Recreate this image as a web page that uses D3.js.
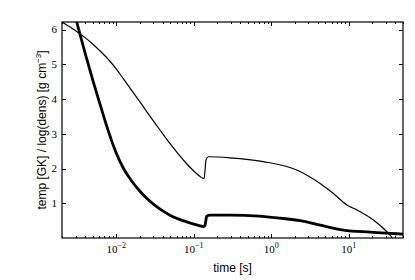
<!DOCTYPE html>
<html>
<head>
<meta charset="utf-8">
<script src="https://cdn.jsdelivr.net/npm/d3@7"></script>
<style>
  body { margin: 0; background: #fff; }
  .tick-label { font-family: "Liberation Serif", "DejaVu Serif", serif; font-size: 11px; fill: #000; }
  .axis-label { font-family: "Liberation Sans", Arial, sans-serif; font-size: 12px; fill: #000; }
</style>
</head>
<body>
<script>
// data
// thin line
var thinTime = [0.0020, 0.002512, 0.003162, 0.003981, 0.005012, 0.00631, 0.007943, 0.01, 0.01259, 0.01585,
                0.01995, 0.02512, 0.03162, 0.03981, 0.05012, 0.0631, 0.07943, 0.1, 0.1208, 0.136,
                0.1442, 0.1545, 0.294, 0.791, 2.13, 4.27, 6.34, 9.44, 12.7, 20.8, 31.0, 35.9, 40];
var thinVal  = [6.22, 6.08, 5.93, 5.77, 5.58, 5.37, 5.14, 4.87, 4.56, 4.25,
                3.94, 3.62, 3.31, 3.00, 2.70, 2.42, 2.16, 1.93, 1.77, 1.71,
                2.25, 2.34, 2.31, 2.20, 1.96, 1.57, 1.28, 0.95, 0.81, 0.52, 0.18, 0.02, -0.15];
// thick line
var thickTime = [0.00286, 0.0031, 0.003981, 0.005012, 0.00631, 0.007943, 0.01, 0.01259, 0.01585, 0.01995,
                 0.02512, 0.03162, 0.03981, 0.05012, 0.0631, 0.07943, 0.1, 0.1208, 0.1331, 0.140,
                 0.147, 0.1625, 0.294, 0.70, 1.30, 2.36, 4.27, 8.53, 18.8, 34.1, 50.2];
var thickVal  = [6.53, 6.22, 5.32, 4.53, 3.79, 3.07, 2.45, 1.98, 1.64, 1.36,
                 1.13, 0.94, 0.78, 0.65, 0.55, 0.47, 0.40, 0.35, 0.33, 0.37,
                 0.63, 0.66, 0.66, 0.63, 0.57, 0.50, 0.37, 0.23, 0.17, 0.135, 0.11];

var xTicks = [0.01, 0.1, 1, 10];
var xTickExp = ["\u22122", "\u22121", "0", "1"];
var yTicks = [1, 2, 3, 4, 5, 6];

// set up dimensions
var width = 415,
    height = 280,
    margin = {top: 22, right: 12, bottom: 42, left: 62};
var w = width - margin.left - margin.right,
    h = height - margin.top - margin.bottom;

var svg = d3.select("body")
            .append("svg")
            .attr("width", width)
            .attr("height", height);

var g = svg.append("g")
    .attr("transform", "translate(" + margin.left + "," + margin.top + ")");

var x = d3.scaleLog().domain([0.002, 50]).range([0, w]);
var y = d3.scaleLinear().domain([0, 6.22]).range([h, 0]);

g.append("clipPath").attr("id", "clip")
  .append("rect").attr("width", w).attr("height", h);

var line = d3.line()
    .x(function(d) { return x(d[0]); })
    .y(function(d) { return y(d[1]); })
    .curve(d3.curveMonotoneX);

var lines = g.append("g").attr("clip-path", "url(#clip)");

lines.append("path")
    .datum(d3.zip(thinTime, thinVal))
    .attr("d", line)
    .attr("fill", "none")
    .attr("stroke", "#000")
    .attr("stroke-width", 1.2);

lines.append("path")
    .datum(d3.zip(thickTime, thickVal))
    .attr("d", line)
    .attr("fill", "none")
    .attr("stroke", "#000")
    .attr("stroke-width", 2.8);

// minor ticks on the log axis
var minor = [];
[0.001, 0.01, 0.1, 1, 10].forEach(function(dec) {
  for (var k = 2; k < 10; k++) {
    var v = dec * k;
    if (v >= 0.002 && v <= 50) minor.push(v);
  }
});

var ticks = g.append("g").attr("stroke", "#000").attr("stroke-width", 1);

// x ticks, bottom and top, pointing inward
xTicks.forEach(function(t) {
  var px = Math.round(x(t)) + 0.5;
  ticks.append("line").attr("x1", px).attr("x2", px).attr("y1", h).attr("y2", h - 4);
  ticks.append("line").attr("x1", px).attr("x2", px).attr("y1", 0).attr("y2", 4);
});
minor.forEach(function(t) {
  var px = Math.round(x(t)) + 0.5;
  ticks.append("line").attr("x1", px).attr("x2", px).attr("y1", h).attr("y2", h - 2);
  ticks.append("line").attr("x1", px).attr("x2", px).attr("y1", 0).attr("y2", 2);
});

// y ticks, left and right
yTicks.forEach(function(t) {
  var py = Math.round(y(t)) + 0.5;
  ticks.append("line").attr("x1", 0).attr("x2", 4).attr("y1", py).attr("y2", py);
  ticks.append("line").attr("x1", w).attr("x2", w - 4).attr("y1", py).attr("y2", py);
});

// frame
g.append("rect")
    .attr("x", 0).attr("y", 0)
    .attr("width", w).attr("height", h)
    .attr("fill", "none")
    .attr("stroke", "#000")
    .attr("stroke-width", 1.2);

// tick labels
yTicks.forEach(function(t) {
  g.append("text")
    .attr("class", "tick-label")
    .attr("x", -5)
    .attr("y", y(t))
    .attr("dy", "0.35em")
    .attr("text-anchor", "end")
    .text(t);
});

xTicks.forEach(function(t, i) {
  var lab = g.append("text")
    .attr("class", "tick-label")
    .attr("x", x(t))
    .attr("y", h + 15)
    .attr("text-anchor", "middle");
  lab.append("tspan").text("10");
  lab.append("tspan").attr("dy", -5).attr("font-size", "8px").text(xTickExp[i]);
});

// axis labels
svg.append("text")
    .attr("class", "axis-label")
    .attr("x", margin.left + w / 2)
    .attr("y", 272)
    .attr("text-anchor", "middle")
    .text("time [s]");

var yl = svg.append("text")
    .attr("class", "axis-label")
    .attr("transform", "translate(46," + (margin.top + h / 2) + ") rotate(-90)")
    .attr("text-anchor", "middle");
yl.append("tspan").text("temp [GK] / log(dens) [g cm");
yl.append("tspan").attr("dy", -5).attr("font-size", "8px").text("\u22123");
yl.append("tspan").attr("dy", 5).text("]");
</script>
</body>
</html>
